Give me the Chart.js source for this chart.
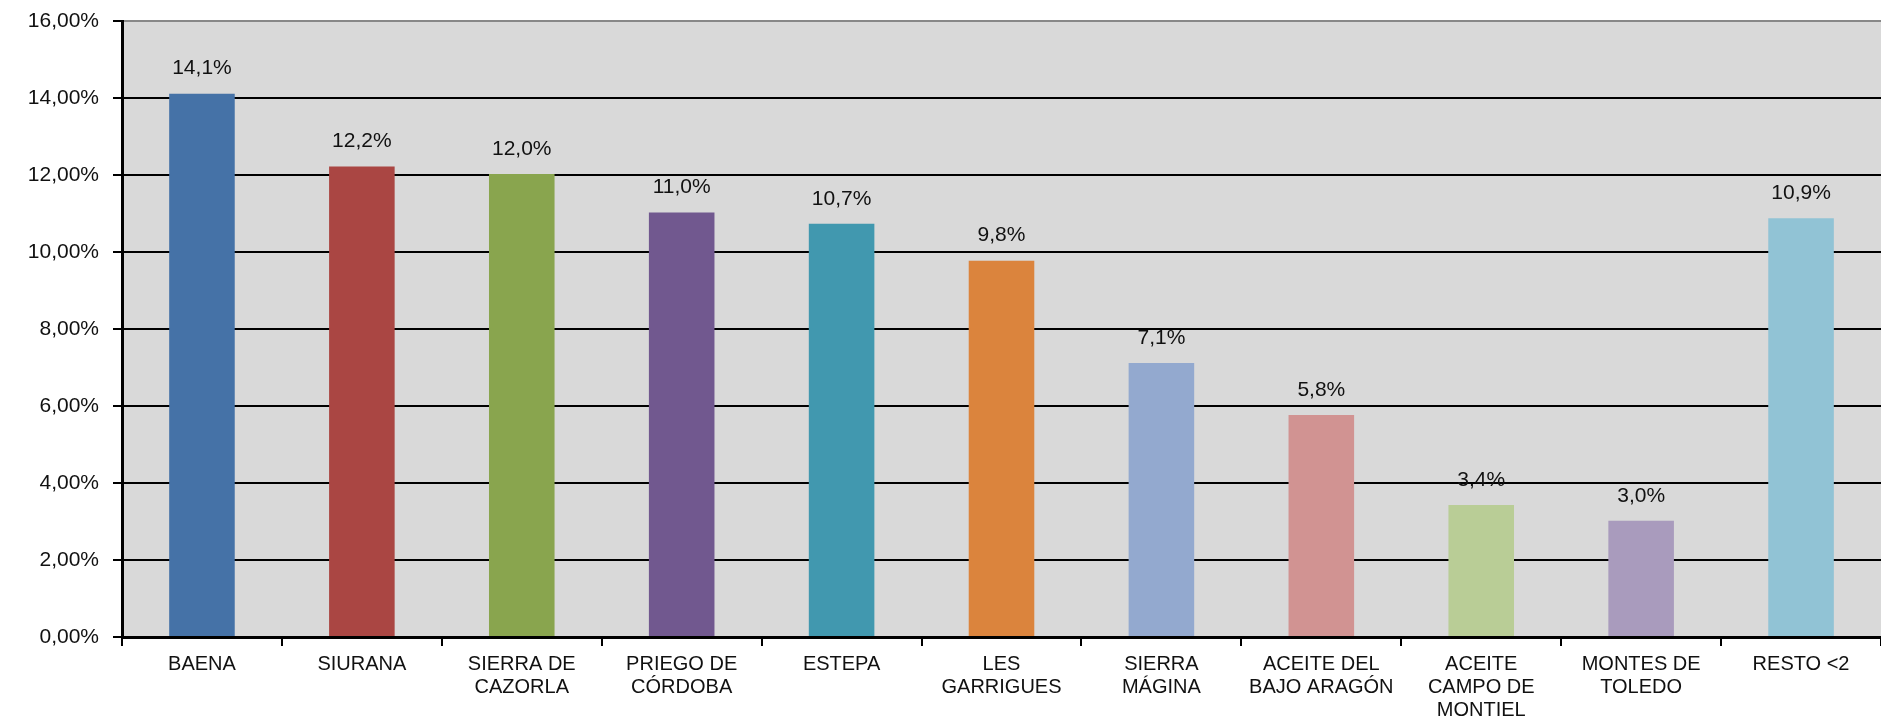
<!DOCTYPE html>
<html>
<head>
<meta charset="utf-8">
<script src="https://cdn.jsdelivr.net/npm/chart.js@4"></script>
<style>
  html, body { margin: 0; padding: 0; background: #fff; }
  #wrap { width: 1881px; height: 725px; position: relative; }
</style>
</head>
<body>
<div id="wrap"><canvas id="chart"></canvas></div>
<script>
// categorías (denominaciones de origen)
const categories = [
  'BAENA',
  'SIURANA',
  ['SIERRA DE', 'CAZORLA'],
  ['PRIEGO DE', 'CÓRDOBA'],
  'ESTEPA',
  ['LES', 'GARRIGUES'],
  ['SIERRA', 'MÁGINA'],
  ['ACEITE DEL', 'BAJO ARAGÓN'],
  ['ACEITE', 'CAMPO DE', 'MONTIEL'],
  ['MONTES DE', 'TOLEDO'],
  'RESTO <2'
];
// cuota en %
const shares = [14.12, 12.23, 12.03, 11.03, 10.74, 9.78, 7.12, 5.77, 3.43, 3.02, 10.88];
const barColors = [
  '#4572A7', '#AA4643', '#89A54E', '#71588F', '#4198AF', '#DB843D',
  '#93A9CF', '#D19392', '#B9CD96', '#A99BBD', '#91C3D5'
];
const yTicks = [0, 2, 4, 6, 8, 10, 12, 14, 16];

const FONT = '"Liberation Sans", Arial, sans-serif';

// fondo gris del área de trazado
const plotBg = {
  id: 'plotBg',
  beforeDraw(chart) {
    const { ctx, chartArea: a } = chart;
    ctx.save();
    ctx.fillStyle = '#d9d9d9';
    ctx.fillRect(a.left, a.top, a.right - a.left, a.bottom - a.top);
    ctx.restore();
  }
};

// etiquetas de valor encima de cada barra
const valueLabels = {
  id: 'valueLabels',
  afterDatasetsDraw(chart) {
    const ctx = chart.ctx;
    const meta = chart.getDatasetMeta(0);
    ctx.save();
    ctx.font = '21px ' + FONT;
    ctx.fillStyle = '#111';
    ctx.textAlign = 'center';
    ctx.textBaseline = 'middle';
    meta.data.forEach((bar, i) => {
      const txt = shares[i].toFixed(1).replace('.', ',') + '%';
      ctx.fillText(txt, bar.x, bar.y - 25);
    });
    ctx.restore();
  }
};

new Chart(document.getElementById('chart'), {
  type: 'bar',
  data: {
    labels: categories,
    datasets: [{
      data: shares,
      backgroundColor: barColors,
      borderWidth: 0,
      barPercentage: 0.41,
      categoryPercentage: 1
    }]
  },
  options: {
    responsive: true,
    maintainAspectRatio: false,
    animation: false,
    layout: { padding: 0 },
    plugins: {
      legend: { display: false },
      tooltip: { enabled: false }
    },
    scales: {
      x: {
        afterFit(scale) { scale.height = 88; },
        grid: {
          offset: true,
          drawOnChartArea: false,
          drawTicks: true,
          tickLength: 9,
          color: '#000',
          lineWidth: 2
        },
        border: { display: true, color: '#000', width: 3 },
        ticks: {
          autoSkip: false,
          maxRotation: 0,
          padding: 7,
          color: '#111',
          font: { family: FONT, size: 20, lineHeight: 1.15 }
        }
      },
      y: {
        min: 0,
        max: 16,
        afterFit(scale) { scale.width = 122; },
        afterBuildTicks(scale) { scale.ticks = yTicks.map(v => ({ value: v })); },
        grid: {
          color: ctx => (ctx.tick && ctx.tick.value === 16) ? '#888' : '#000',
          lineWidth: 2,
          tickLength: 9,
          tickColor: '#000'
        },
        border: { display: true, color: '#000', width: 3 },
        ticks: {
          padding: 14,
          color: '#111',
          font: { family: FONT, size: 21, lineHeight: 0.7 },
          callback: v => v.toFixed(2).replace('.', ',') + '%'
        }
      }
    }
  },
  plugins: [plotBg, valueLabels]
});
</script>
</body>
</html>
